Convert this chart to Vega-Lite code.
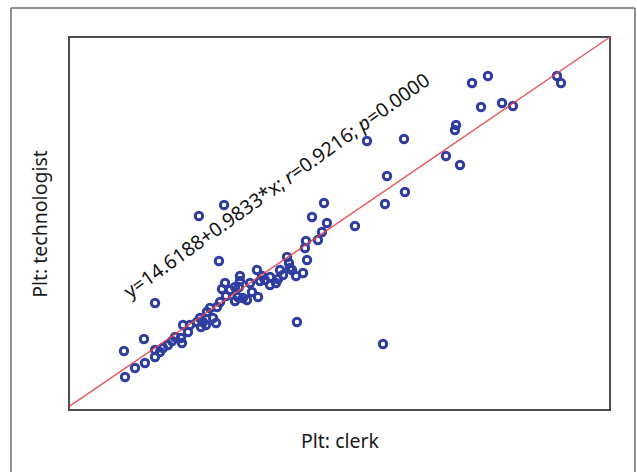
{
  "$schema": "https://vega.github.io/schema/vega-lite/v6.json",
  "width": 541,
  "height": 373,
  "autosize": {"type": "none"},
  "padding": {"left": 69, "top": 37, "right": 27, "bottom": 62},
  "background": "white",
  "config": {
    "view": {"stroke": "#4d4d4d", "strokeWidth": 2},
    "font": "Noto Sans",
    "axis": {
      "domain": false,
      "ticks": false,
      "labels": false,
      "grid": false,
      "titleFont": "Noto Sans",
      "titleFontSize": 19.5,
      "titleFontWeight": "normal",
      "titleColor": "#1a1a1a"
    }
  },
  "datasets": {
    "platelets": [
      {"clerk": 451.0, "technologist": 454.4},
      {"clerk": 454.7, "technologist": 445.1},
      {"clerk": 372.5, "technologist": 445.1},
      {"clerk": 387.2, "technologist": 454.4},
      {"clerk": 380.8, "technologist": 413.2},
      {"clerk": 400.2, "technologist": 418.5},
      {"clerk": 410.3, "technologist": 414.5},
      {"clerk": 357.7, "technologist": 389.2},
      {"clerk": 356.7, "technologist": 382.6},
      {"clerk": 348.4, "technologist": 348.0},
      {"clerk": 361.4, "technologist": 336.0},
      {"clerk": 309.6, "technologist": 370.6},
      {"clerk": 275.4, "technologist": 367.9},
      {"clerk": 293.9, "technologist": 321.4},
      {"clerk": 310.5, "technologist": 300.1},
      {"clerk": 292.0, "technologist": 284.1},
      {"clerk": 290.2, "technologist": 97.8},
      {"clerk": 264.3, "technologist": 254.8},
      {"clerk": 235.7, "technologist": 285.4},
      {"clerk": 224.6, "technologist": 266.8},
      {"clerk": 238.4, "technologist": 258.8},
      {"clerk": 233.8, "technologist": 246.8},
      {"clerk": 230.1, "technologist": 236.2},
      {"clerk": 219.0, "technologist": 234.9},
      {"clerk": 218.1, "technologist": 225.6},
      {"clerk": 220.0, "technologist": 209.6},
      {"clerk": 216.3, "technologist": 192.3},
      {"clerk": 210.7, "technologist": 127.1},
      {"clerk": 201.5, "technologist": 213.6},
      {"clerk": 203.3, "technologist": 205.6},
      {"clerk": 204.2, "technologist": 198.9},
      {"clerk": 195.0, "technologist": 196.3},
      {"clerk": 193.2, "technologist": 184.3},
      {"clerk": 197.8, "technologist": 189.6},
      {"clerk": 185.8, "technologist": 187.0},
      {"clerk": 181.1, "technologist": 183.0},
      {"clerk": 176.5, "technologist": 181.6},
      {"clerk": 173.7, "technologist": 196.3},
      {"clerk": 167.3, "technologist": 179.0},
      {"clerk": 158.0, "technologist": 188.3},
      {"clerk": 158.0, "technologist": 181.6},
      {"clerk": 157.1, "technologist": 173.7},
      {"clerk": 144.2, "technologist": 179.0},
      {"clerk": 141.4, "technologist": 171.0},
      {"clerk": 148.8, "technologist": 169.7},
      {"clerk": 156.2, "technologist": 160.4},
      {"clerk": 160.8, "technologist": 159.0},
      {"clerk": 164.5, "technologist": 156.4},
      {"clerk": 174.7, "technologist": 160.4},
      {"clerk": 169.1, "technologist": 167.0},
      {"clerk": 153.4, "technologist": 155.0},
      {"clerk": 143.3, "technologist": 282.8},
      {"clerk": 120.1, "technologist": 268.1},
      {"clerk": 138.6, "technologist": 208.3},
      {"clerk": 79.5, "technologist": 152.4},
      {"clerk": 136.8, "technologist": 147.1},
      {"clerk": 130.3, "technologist": 145.7},
      {"clerk": 127.5, "technologist": 140.4},
      {"clerk": 133.1, "technologist": 132.4},
      {"clerk": 135.9, "technologist": 125.8},
      {"clerk": 121.1, "technologist": 132.4},
      {"clerk": 118.3, "technologist": 127.1},
      {"clerk": 123.8, "technologist": 127.1},
      {"clerk": 111.8, "technologist": 123.1},
      {"clerk": 105.4, "technologist": 123.1},
      {"clerk": 110.0, "technologist": 113.8},
      {"clerk": 103.5, "technologist": 105.8},
      {"clerk": 98.0, "technologist": 107.1},
      {"clerk": 104.4, "technologist": 99.2},
      {"clerk": 95.2, "technologist": 101.8},
      {"clerk": 91.5, "technologist": 96.5},
      {"clerk": 86.9, "technologist": 92.5},
      {"clerk": 79.5, "technologist": 89.8},
      {"clerk": 79.5, "technologist": 80.5},
      {"clerk": 70.2, "technologist": 72.5},
      {"clerk": 61.0, "technologist": 65.9},
      {"clerk": 51.8, "technologist": 53.9},
      {"clerk": 50.8, "technologist": 88.5},
      {"clerk": 69.3, "technologist": 104.5},
      {"clerk": 185.8, "technologist": 176.3},
      {"clerk": 191.3, "technologist": 179.0},
      {"clerk": 206.1, "technologist": 196.3},
      {"clerk": 209.8, "technologist": 188.3},
      {"clerk": 145.1, "technologist": 161.7},
      {"clerk": 126.6, "technologist": 123.1},
      {"clerk": 139.6, "technologist": 153.7},
      {"clerk": 122.0, "technologist": 120.4},
      {"clerk": 84.1, "technologist": 87.2},
      {"clerk": 178.4, "technologist": 188.3},
      {"clerk": 153.4, "technologist": 173.7}
    ],
    "fit": [
      {"clerk": 0, "technologist": 14.6188},
      {"clerk": 500, "technologist": 506.2688}
    ],
    "equation": [
      {"part": "y=14.6188+0.9833*x;", "style": "normal", "order": 0},
      {"part": "r", "style": "italic", "order": 1},
      {"part": "=0.9216;", "style": "normal", "order": 2},
      {"part": "p", "style": "italic", "order": 3},
      {"part": "=0.0000", "style": "normal", "order": 4}
    ]
  },
  "layer": [
    {
      "data": {"name": "platelets"},
      "mark": {
        "type": "point",
        "shape": "circle",
        "filled": false,
        "size": 55,
        "strokeWidth": 3,
        "color": "#2e3d9f",
        "opacity": 1
      },
      "encoding": {
        "x": {
          "field": "clerk",
          "type": "quantitative",
          "scale": {"domain": [0, 500], "nice": false, "zero": false},
          "axis": {"title": "Plt: clerk", "titlePadding": 22}
        },
        "y": {
          "field": "technologist",
          "type": "quantitative",
          "scale": {"domain": [10, 506.2688], "nice": false, "zero": false},
          "axis": {"title": "Plt: technologist", "titlePadding": 19}
        }
      }
    },
    {
      "data": {"name": "fit"},
      "mark": {"type": "line", "color": "#e8474f", "strokeWidth": 1.5, "opacity": 0.9},
      "encoding": {
        "x": {"field": "clerk", "type": "quantitative"},
        "y": {"field": "technologist", "type": "quantitative"}
      }
    },
    {
      "data": {"name": "equation"},
      "transform": [{"filter": "datum.order == 0"}],
      "mark": {"type": "text", "align": "left", "baseline": "alphabetic", "angle": 324.4, "fontSize": 19.5, "font": "Noto Sans", "color": "#111111", "dx": 0},
      "encoding": {
        "x": {"datum": 56.4, "type": "quantitative"},
        "y": {"datum": 157.7, "type": "quantitative"},
        "text": {"field": "part"}
      }
    },
    {
      "data": {"name": "equation"},
      "transform": [{"filter": "datum.order == 1"}],
      "mark": {"type": "text", "align": "left", "baseline": "alphabetic", "angle": 324.4, "fontSize": 19.5, "font": "Noto Sans", "fontStyle": "italic", "color": "#111111", "dx": 196.4},
      "encoding": {
        "x": {"datum": 56.4, "type": "quantitative"},
        "y": {"datum": 157.7, "type": "quantitative"},
        "text": {"field": "part"}
      }
    },
    {
      "data": {"name": "equation"},
      "transform": [{"filter": "datum.order == 2"}],
      "mark": {"type": "text", "align": "left", "baseline": "alphabetic", "angle": 324.4, "fontSize": 19.5, "font": "Noto Sans", "color": "#111111", "dx": 204.2},
      "encoding": {
        "x": {"datum": 56.4, "type": "quantitative"},
        "y": {"datum": 157.7, "type": "quantitative"},
        "text": {"field": "part"}
      }
    },
    {
      "data": {"name": "equation"},
      "transform": [{"filter": "datum.order == 3"}],
      "mark": {"type": "text", "align": "left", "baseline": "alphabetic", "angle": 324.4, "fontSize": 19.5, "font": "Noto Sans", "fontStyle": "italic", "color": "#111111", "dx": 286.6},
      "encoding": {
        "x": {"datum": 56.4, "type": "quantitative"},
        "y": {"datum": 157.7, "type": "quantitative"},
        "text": {"field": "part"}
      }
    },
    {
      "data": {"name": "equation"},
      "transform": [{"filter": "datum.order == 4"}],
      "mark": {"type": "text", "align": "left", "baseline": "alphabetic", "angle": 324.4, "fontSize": 19.5, "font": "Noto Sans", "color": "#111111", "dx": 298.3},
      "encoding": {
        "x": {"datum": 56.4, "type": "quantitative"},
        "y": {"datum": 157.7, "type": "quantitative"},
        "text": {"field": "part"}
      }
    },
    {
      "data": {"values": [{"side": "left"}]},
      "mark": {"type": "rule", "color": "#6e6e6e", "strokeWidth": 1.5},
      "encoding": {
        "x": {"datum": -53.6, "type": "quantitative"},
        "y": {"datum": -72.5, "type": "quantitative"},
        "y2": {"datum": 544.9}
      }
    },
    {
      "data": {"values": [{"side": "right"}]},
      "mark": {"type": "rule", "color": "#6e6e6e", "strokeWidth": 1.5},
      "encoding": {
        "x": {"datum": 523.1, "type": "quantitative"},
        "y": {"datum": -72.5, "type": "quantitative"},
        "y2": {"datum": 544.9}
      }
    },
    {
      "data": {"values": [{"side": "top"}]},
      "mark": {"type": "rule", "color": "#6e6e6e", "strokeWidth": 1.5},
      "encoding": {
        "x": {"datum": -53.6, "type": "quantitative"},
        "x2": {"datum": 523.1},
        "y": {"datum": 544.9, "type": "quantitative"}
      }
    }
  ]
}
